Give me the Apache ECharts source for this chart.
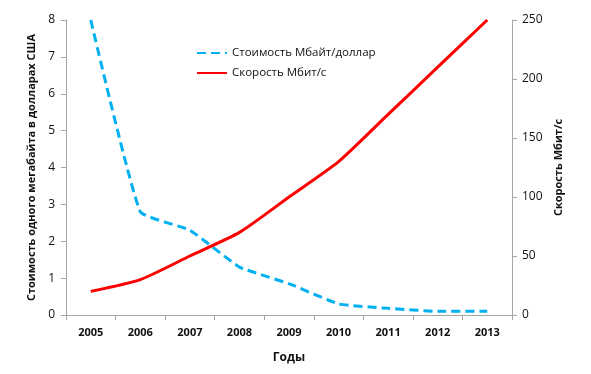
<!DOCTYPE html>
<html><head><meta charset="utf-8">
<script src="https://cdn.jsdelivr.net/npm/echarts@6/dist/echarts.min.js"></script>
<style>html,body{margin:0;padding:0;background:#fff}#c{width:591px;height:374px}</style>
</head><body><div id="c"></div>
<script>
const years = ['2005','2006','2007','2008','2009','2010','2011','2012','2013'];
const costPerMB = [8, 2.8, 2.3, 1.3, 0.85, 0.3, 0.18, 0.1, 0.1];
const speedMbit = [20, 30, 50, 70, 100, 130, 170, 210, 250];
const leftTicks = [0, 8, 1];
const rightTicks = [0, 250, 50];
const costName = 'Стоимость Мбайт/доллар';
const speedName = 'Скорость Мбит/с';

const F = 'Open Sans, Liberation Sans, sans-serif';
const axisGray = '#a6a6a6';
const chart = echarts.init(document.getElementById('c'), null, {renderer:'canvas'});
chart.setOption({
  animation:false,
  backgroundColor:'#fff',
  grid:{left:66, right:79, top:20, bottom:59, containLabel:false},
  legend:{
    orient:'vertical', left:191, top:42, itemWidth:30, itemHeight:10, itemGap:8,
    itemStyle:{opacity:0},
    textStyle:{fontFamily:F, fontSize:11.5, color:'#111'},
    data:[costName, speedName]
  },
  xAxis:{
    type:'category', data:years, boundaryGap:true,
    name:'Годы', nameLocation:'middle', nameGap:37,
    nameTextStyle:{fontFamily:F, fontWeight:'bold', fontSize:12, color:'#111'},
    axisLine:{lineStyle:{color:axisGray}},
    axisTick:{show:true, alignWithLabel:false, length:5, lineStyle:{color:axisGray}},
    axisLabel:{fontFamily:F, fontWeight:'bold', fontSize:11, color:'#111', margin:12},
    splitLine:{show:false}
  },
  yAxis:[{
    type:'value', min:leftTicks[0], max:leftTicks[1], interval:leftTicks[2],
    name:'Стоимость одного мегабайта в долларах США', nameLocation:'middle', nameGap:24,
    nameRotate:90,
    nameTextStyle:{fontFamily:F, fontWeight:'bold', fontSize:11, color:'#111'},
    axisLine:{show:true, lineStyle:{color:axisGray}},
    axisTick:{show:true, length:5, lineStyle:{color:axisGray}},
    axisLabel:{fontFamily:F, fontSize:12, color:'#111', margin:11},
    splitLine:{show:false}
  },{
    type:'value', min:rightTicks[0], max:rightTicks[1], interval:rightTicks[2],
    name:speedName, nameLocation:'middle', nameGap:41, nameRotate:90,
    nameTextStyle:{fontFamily:F, fontWeight:'bold', fontSize:11, color:'#111'},
    axisLine:{show:true, lineStyle:{color:axisGray}},
    axisTick:{show:true, length:5, lineStyle:{color:axisGray}},
    axisLabel:{fontFamily:F, fontSize:12, color:'#111', margin:10},
    splitLine:{show:false}
  }],
  series:[{
    name:costName, type:'line', yAxisIndex:0, data:costPerMB, symbol:'none', smooth:0.12,
    lineStyle:{color:'#00b0f0', width:3, type:[9,5]}, itemStyle:{color:'#00b0f0'}
  },{
    name:speedName, type:'line', yAxisIndex:1, data:speedMbit, symbol:'none', smooth:0.2,
    lineStyle:{color:'#ff0000', width:3}, itemStyle:{color:'#ff0000'}
  }]
});
</script></body></html>
